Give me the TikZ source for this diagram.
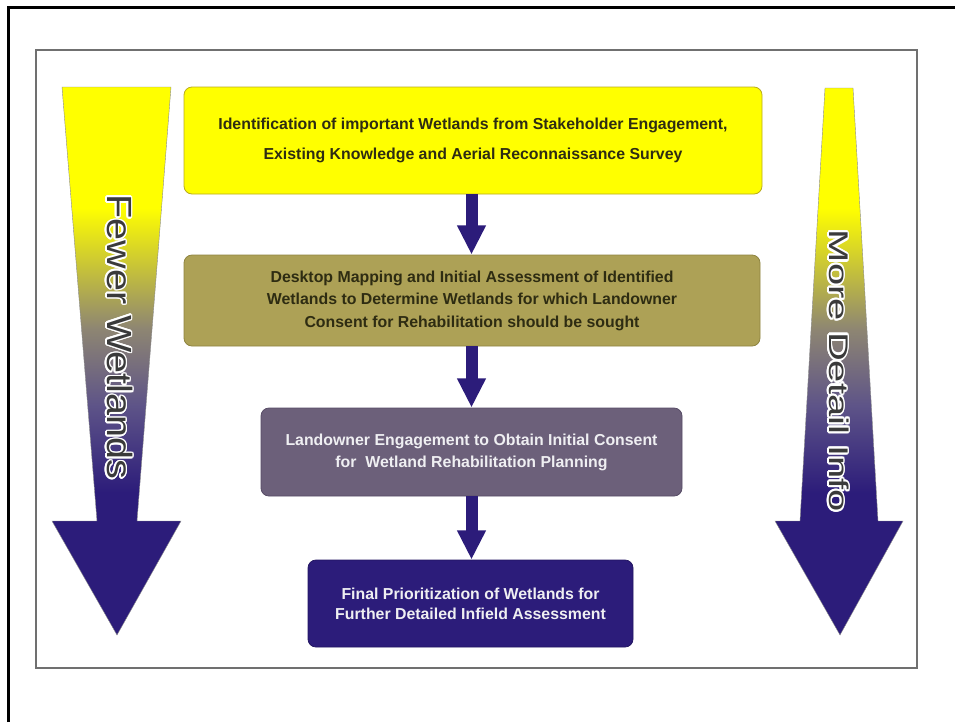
\documentclass[tikz,border=0pt]{standalone}
\usepackage{fontspec}
\setmainfont{Liberation Sans}
\usepackage[copies]{contour}
\usetikzlibrary{arrows.meta}

\definecolor{navy}{HTML}{2C1C7A}
\definecolor{brightyellow}{HTML}{FFFF00}
\definecolor{yellowedge}{HTML}{B9AC1E}
\definecolor{olivebox}{HTML}{ADA156}
\definecolor{oliveedge}{HTML}{8E8440}
\definecolor{mauvebox}{HTML}{6C607A}
\definecolor{mauveedge}{HTML}{574C66}
\definecolor{darktext}{HTML}{2E2C12}
\definecolor{lighttext}{HTML}{EFEFF2}
\definecolor{labeltext}{HTML}{3A3A3A}
\definecolor{midgrey}{HTML}{8E8672}
\definecolor{midpurple}{HTML}{5E5488}
\definecolor{framegrey}{HTML}{707070}

% yellow at the top, fading through grey into navy at the bottom
\pgfdeclareverticalshading{wetfade}{100bp}{%
  color(0bp)=(navy); color(38bp)=(navy); color(46bp)=(midpurple);
  color(53bp)=(midgrey); color(64bp)=(brightyellow); color(100bp)=(brightyellow)}

\contourlength{1.1pt}

\begin{document}
\begin{tikzpicture}[x=0.75pt,y=-0.75pt,
  stage/.style={rounded corners=6pt, align=center, inner sep=0pt,
    font=\bfseries\fontsize{11.9}{16.9}\selectfont},
  flow/.style={draw=navy, line width=9pt,
    -{Triangle[width=20.25pt,length=22pt]}},
  funnel/.style={shading=wetfade, draw=black!45, line width=0.3pt},
  sidelabel/.style={text=labeltext, inner sep=0pt, rotate=-90}
]
\useasboundingbox (0,0) rectangle (955,722);
\fill[white] (0,0) rectangle (955,722);

% outer frame and inner panel
\draw[line width=2.25pt] (8.5,722) -- (8.5,7.5) -- (955,7.5);
\draw[framegrey, line width=1.5pt] (36,50) rectangle (917,668);

% side arrows
\shade[funnel] (62,87) -- (171,87) -- (137,521) -- (181,521) -- (117,635)
  -- (52,521) -- (97,521) -- cycle;
\shade[funnel] (825,88) -- (853,88) -- (878,521) -- (903,521) -- (840,635)
  -- (775,521) -- (800,521) -- cycle;

\node[sidelabel, xscale=1.13, font=\fontsize{26.25}{30}\selectfont]
  (fewer) at (119,337) {\contour{white}{Fewer Wetlands}};
\node[sidelabel, xscale=1.48, font=\fontsize{20.25}{24}\selectfont]
  (detail) at (838,371) {\contour{white}{More Detail Info}};

% process stages
\node[stage, fill=brightyellow, draw=yellowedge, line width=0.6pt,
  minimum width=433.5pt, minimum height=80.25pt, text=darktext,
  font=\bfseries\fontsize{11.9}{22.5}\selectfont]
  (b1) at (473,140.5)
  {Identification of important Wetlands from Stakeholder Engagement,\\
   Existing Knowledge and Aerial Reconnaissance Survey};

\node[stage, fill=olivebox, draw=oliveedge, line width=0.6pt,
  minimum width=432pt, minimum height=68.25pt, text=darktext]
  (b2) at (472,300.5)
  {Desktop Mapping and Initial Assessment of Identified\\
   Wetlands to Determine Wetlands for which Landowner\\
   Consent for Rehabilitation should be sought};

\node[stage, fill=mauvebox, draw=mauveedge, line width=0.6pt,
  minimum width=315.75pt, minimum height=66pt, text=lighttext,
  font=\bfseries\fontsize{11.9}{16.5}\selectfont]
  (b3) at (471.5,452)
  {Landowner Engagement to Obtain Initial Consent\\
   for\ \ Wetland Rehabilitation Planning};

\node[stage, fill=navy, draw=navy!80!black, line width=0.6pt,
  minimum width=243.75pt, minimum height=65.25pt, text=lighttext,
  font=\bfseries\fontsize{11.9}{15}\selectfont]
  (b4) at (470.5,603.5)
  {Final Prioritization of Wetlands for\\
   Further Detailed Infield Assessment};

% connectors
\draw[flow] (b3 |- b1.south) -- (b3 |- b2.north);
\draw[flow] (b3 |- b2.south) -- (b3.north);
\draw[flow] (b3.south) -- (b3 |- b4.north);
\end{tikzpicture}
\end{document}
